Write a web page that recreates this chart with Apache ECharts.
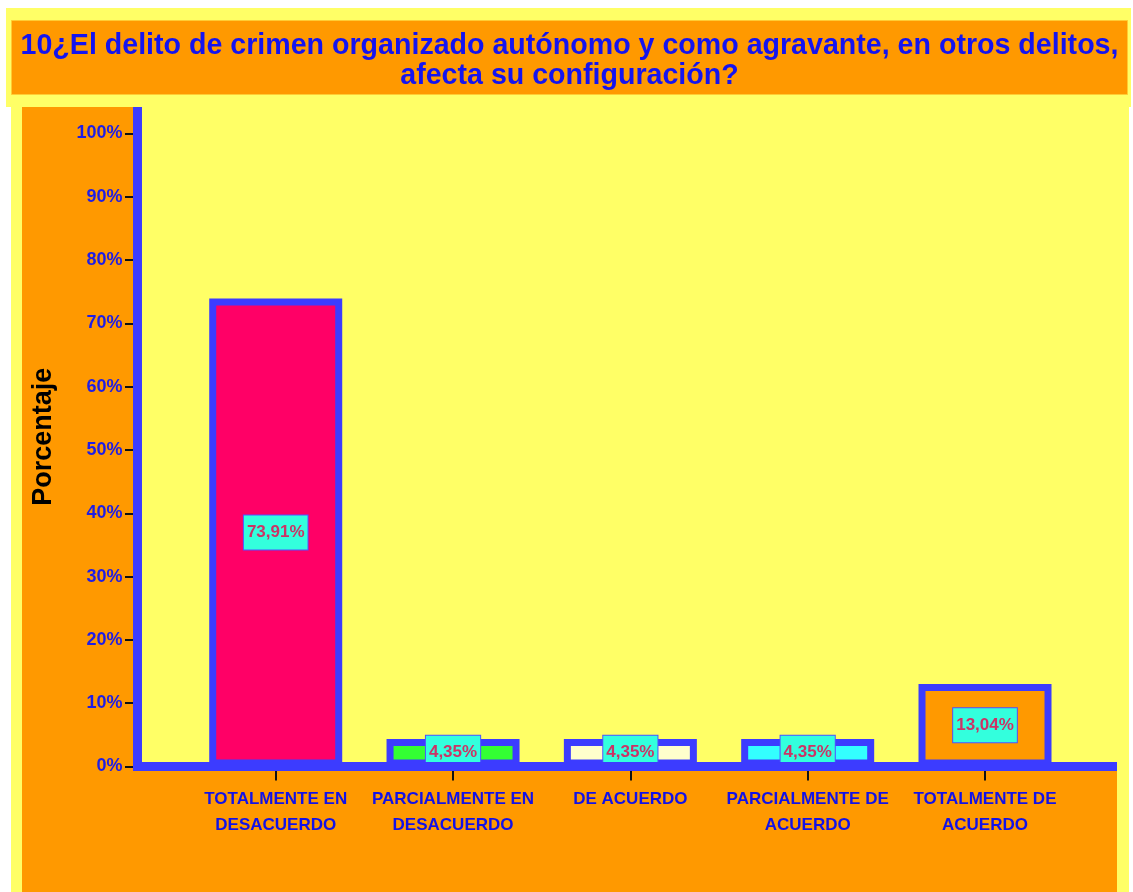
<!DOCTYPE html>
<html>
<head>
<meta charset="utf-8">
<script src="https://cdn.jsdelivr.net/npm/echarts@6/dist/echarts.min.js"></script>
<style>
html,body{margin:0;padding:0;background:#fff;}
#chart{width:1133px;height:892px;}
</style>
</head>
<body>
<div id="chart"></div>
<script>
const titleText = '10¿El delito de crimen organizado autónomo y como agravante, en otros delitos,\nafecta su configuración?';
const yAxisName = 'Porcentaje';
const categories = ['TOTALMENTE EN\nDESACUERDO', 'PARCIALMENTE EN\nDESACUERDO', 'DE ACUERDO', 'PARCIALMENTE DE\nACUERDO', 'TOTALMENTE DE\nACUERDO'];
const values = [73.91, 4.35, 4.35, 4.35, 13.04];
const barColors = ['#FF0066', '#33FF33', '#FFFFCC', '#33FFFF', '#FF9900'];
const yTickValues = [0, 10, 20, 30, 40, 50, 60, 70, 80, 90, 100];
const xTickValues = [0, 1, 2, 3, 4];

const BLUE = '#3C3CFF';
const chart = echarts.init(document.getElementById('chart'), null, {renderer: 'canvas'});

const yBase = {type: 'value', min: 0, max: 104.18, interval: 10, splitLine: {show: false}};
const xBase = {type: 'value', min: -0.7795, max: 4.719, splitLine: {show: false}};

chart.setOption({
  backgroundColor: '#ffffff',
  animation: false,
  title: {
    text: titleText,
    left: 569.5,
    top: 31,
    textAlign: 'center',
    padding: 0,
    textStyle: {
      fontFamily: 'Liberation Sans, Arial, sans-serif',
      fontWeight: 'bold',
      fontSize: 28.6,
      lineHeight: 30,
      color: '#1414F0'
    }
  },
  graphic: [
    {type: 'rect', z: -100, shape: {x: 6, y: 8, width: 1125, height: 99}, style: {fill: '#FFFF66'}},
    {type: 'rect', z: -100, shape: {x: 11, y: 107, width: 1118, height: 785}, style: {fill: '#FFFF66'}},
    {type: 'rect', z: -99, shape: {x: 11.5, y: 20.5, width: 1116, height: 74}, style: {fill: '#FF9900', stroke: '#FFCC33', lineWidth: 1}},
    {type: 'rect', z: -99, shape: {x: 22, y: 107, width: 1095, height: 785}, style: {fill: '#FF9900'}},
    {type: 'rect', z: -98, shape: {x: 137, y: 107, width: 980, height: 660}, style: {fill: '#FFFF66'}}
  ],
  grid: {left: 137.5, right: 20.5, top: 107, bottom: 125.5, containLabel: false},
  xAxis: [
    Object.assign({}, xBase, {
      position: 'bottom', z: 10,
      axisLine: {show: true, onZero: false, lineStyle: {color: BLUE, width: 9, cap: 'square'}},
      axisTick: {show: false}, axisLabel: {show: false}
    }),
    Object.assign({}, xBase, {
      position: 'bottom', z: 9,
      axisLine: {show: false, onZero: false},
      axisTick: {show: true, length: 14, customValues: xTickValues, lineStyle: {color: '#111', width: 2}},
      axisLabel: {
        show: true, customValues: xTickValues, margin: 20, hideOverlap: false,
        formatter: v => categories[Math.round(v)] || '',
        fontFamily: 'Liberation Sans, Arial, sans-serif',
        fontWeight: 'bold', fontSize: 17, lineHeight: 26, color: '#1212E8', align: 'center'
      }
    })
  ],
  yAxis: [
    Object.assign({}, yBase, {
      position: 'left', z: 10,
      axisLine: {show: true, onZero: false, symbol: 'none', lineStyle: {color: BLUE, width: 9, cap: 'butt'}},
      axisTick: {show: false}, axisLabel: {show: false}
    }),
    Object.assign({}, yBase, {
      position: 'left', z: 9,
      name: yAxisName,
      nameLocation: 'middle',
      nameRotate: 90,
      nameGap: 80,
      nameTextStyle: {fontFamily: 'Liberation Sans, Arial, sans-serif', fontWeight: 'bold', fontSize: 27, color: '#000'},
      axisLine: {show: false, onZero: false},
      axisTick: {show: true, length: 12.5, customValues: yTickValues, lineStyle: {color: '#111', width: 2}},
      axisLabel: {
        show: true, customValues: yTickValues, margin: 15,
        formatter: v => v + '%',
        fontFamily: 'Liberation Sans, Arial, sans-serif',
        fontWeight: 'bold', fontSize: 18, color: '#1E1EE6'
      }
    })
  ],
  series: [{
    type: 'bar',
    xAxisIndex: 0,
    yAxisIndex: 0,
    barWidth: 133,
    z: 2,
    data: values.map((v, i) => ({
      value: [i, v],
      itemStyle: {color: barColors[i], borderColor: BLUE, borderWidth: 7}
    })),
    label: {
      show: true,
      position: 'inside',
      formatter: p => p.value[1].toFixed(2).replace('.', ',') + '%',
      fontFamily: 'Liberation Sans, Arial, sans-serif',
      fontWeight: 'bold',
      fontSize: 17,
      lineHeight: 20,
      color: '#CC3366',
      backgroundColor: '#33FFDD',
      borderColor: '#5050FF',
      borderWidth: 1,
      padding: [7, 3]
    }
  }]
});
</script>
</body>
</html>
